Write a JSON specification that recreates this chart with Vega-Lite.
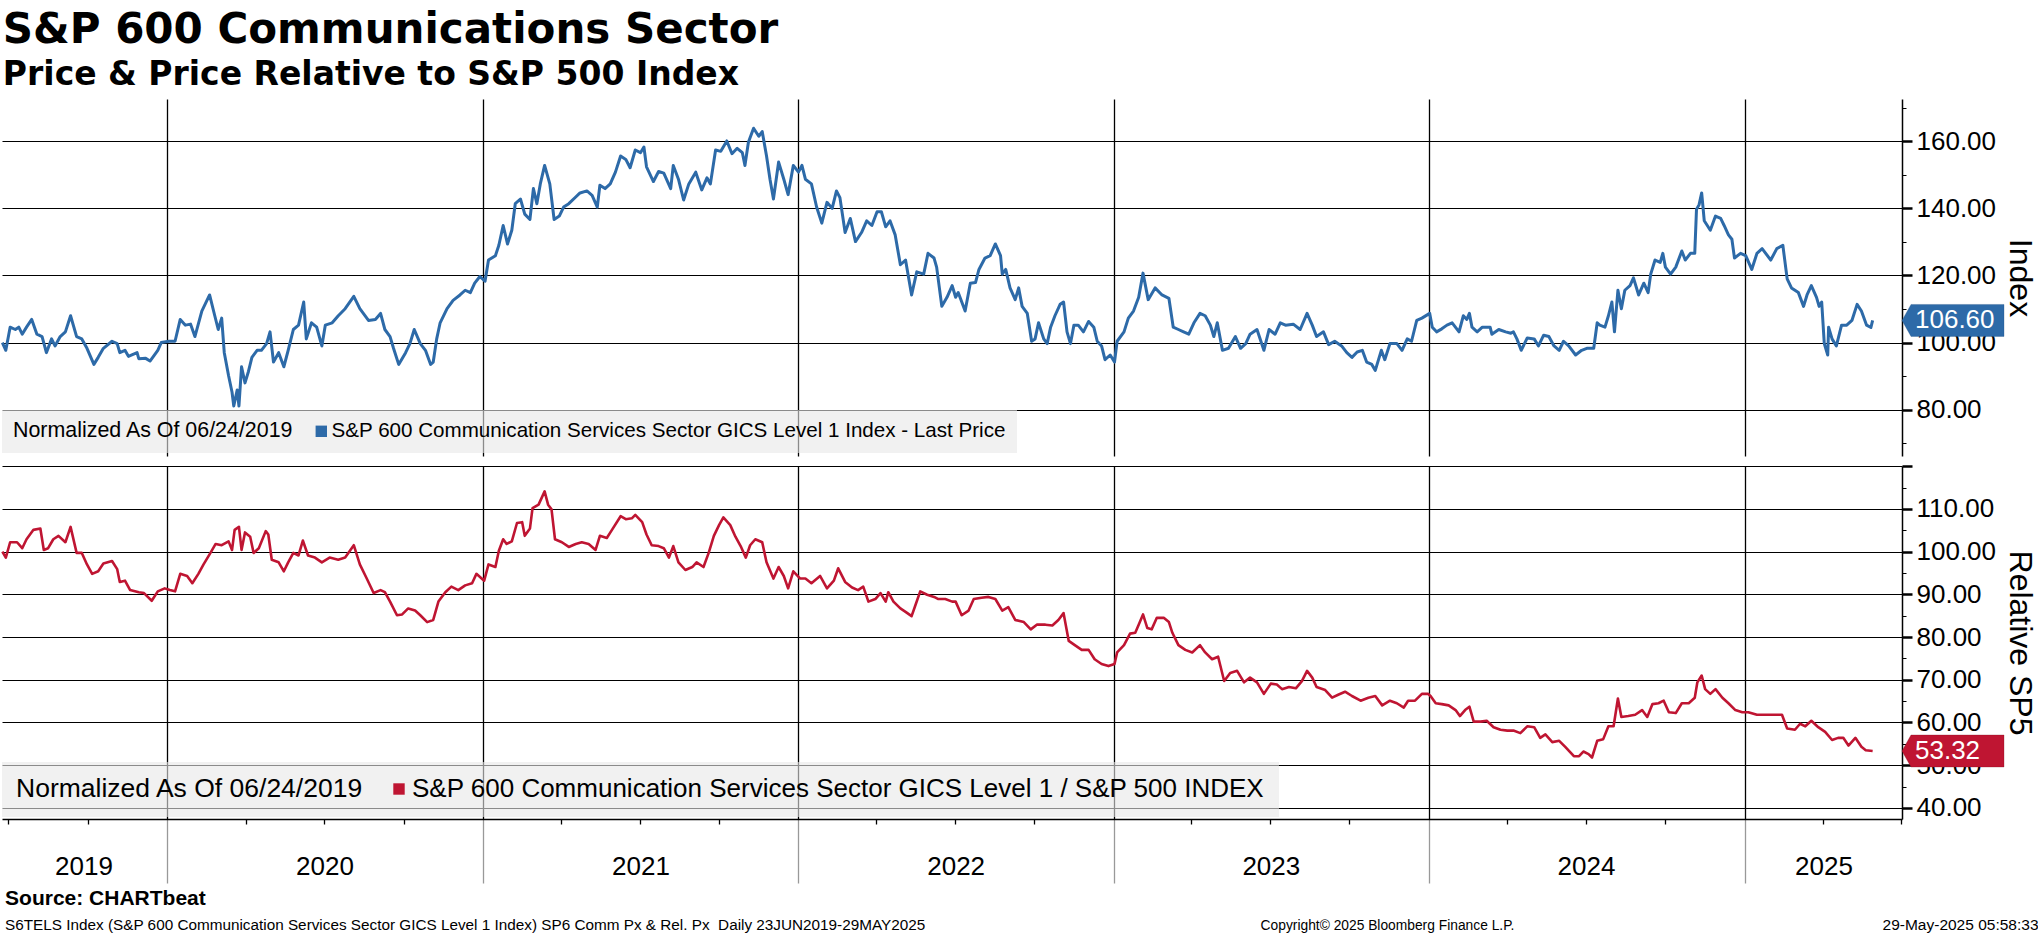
{
"$schema":"https://vega.github.io/schema/vega-lite/v6.json",
"background":"white",
"padding":{"top":9,"left":0,"right":0,"bottom":0},
"autosize":{"type":"pad"},
"config":{"view":{"stroke":null},"font":"Liberation Sans",
"axis":{"labelColor":"#000","titleColor":"#000","domainColor":"#000","tickColor":"#000","gridColor":"#000","gridOpacity":1,"labelFont":"Liberation Sans","titleFont":"Liberation Sans"}},
"title":{"text":"S&P 600 Communications Sector","subtitle":"Price & Price Relative to S&P 500 Index","anchor":"start","font":"DejaVu Sans","fontSize":42,"fontWeight":"bold","color":"#000","subtitleFont":"DejaVu Sans","subtitleFontSize":33,"subtitleFontWeight":"bold","subtitleColor":"#000","subtitlePadding":7,"offset":6,"dx":2},
"datasets":{
"px":[
{"d":"2019-06-24","v":100},{"d":"2019-06-28","v":97.7},{"d":"2019-07-03","v":104.6},{"d":"2019-07-09","v":103.9},{"d":"2019-07-13","v":104.6},{"d":"2019-07-17","v":102.5},{"d":"2019-07-22","v":104.6},{"d":"2019-07-28","v":106.9},{"d":"2019-08-03","v":102.5},{"d":"2019-08-09","v":101.8},{"d":"2019-08-14","v":97.0},{"d":"2019-08-20","v":101.1},{"d":"2019-08-24","v":99.0},{"d":"2019-08-30","v":101.8},{"d":"2019-09-05","v":103.2},{"d":"2019-09-11","v":108.0},{"d":"2019-09-18","v":101.8},{"d":"2019-09-24","v":101.1},{"d":"2019-09-30","v":98.3},{"d":"2019-10-08","v":93.5},{"d":"2019-10-13","v":95.6},{"d":"2019-10-19","v":98.3},{"d":"2019-10-29","v":100.4},{"d":"2019-11-04","v":99.7},{"d":"2019-11-07","v":97.0},{"d":"2019-11-13","v":97.7},{"d":"2019-11-17","v":95.9},{"d":"2019-11-27","v":97.0},{"d":"2019-11-29","v":95.2},{"d":"2019-12-07","v":95.3},{"d":"2019-12-12","v":94.5},{"d":"2019-12-21","v":97.7},{"d":"2019-12-25","v":100.0},
{"d":"2020-01-03","v":100.4},{"d":"2020-01-10","v":100.4},{"d":"2020-01-16","v":106.9},{"d":"2020-01-22","v":105.2},{"d":"2020-01-28","v":105.5},{"d":"2020-02-02","v":101.8},{"d":"2020-02-10","v":109.4},{"d":"2020-02-19","v":114.2},{"d":"2020-02-25","v":108.0},{"d":"2020-02-29","v":103.9},{"d":"2020-03-04","v":107.3},{"d":"2020-03-07","v":97.0},{"d":"2020-03-12","v":90.1},{"d":"2020-03-16","v":85.2},{"d":"2020-03-18","v":81.1},{"d":"2020-03-22","v":85.9},{"d":"2020-03-24","v":81.1},{"d":"2020-03-27","v":92.8},{"d":"2020-03-31","v":88.0},{"d":"2020-04-04","v":91.4},{"d":"2020-04-08","v":95.6},{"d":"2020-04-14","v":97.7},{"d":"2020-04-19","v":97.7},{"d":"2020-04-25","v":99.7},{"d":"2020-04-29","v":103.2},{"d":"2020-05-03","v":94.2},{"d":"2020-05-09","v":97.0},{"d":"2020-05-15","v":92.8},{"d":"2020-05-20","v":97.7},{"d":"2020-05-26","v":103.9},{"d":"2020-06-01","v":105.2},{"d":"2020-06-07","v":112.1},{"d":"2020-06-10","v":101.1},{"d":"2020-06-16","v":105.9},{"d":"2020-06-22","v":104.6},{"d":"2020-06-28","v":99.0},{"d":"2020-07-02","v":105.2},{"d":"2020-07-10","v":105.9},{"d":"2020-07-17","v":108.0},{"d":"2020-07-25","v":110.1},{"d":"2020-08-04","v":113.8},{"d":"2020-08-11","v":110.1},{"d":"2020-08-21","v":106.6},{"d":"2020-08-29","v":106.9},{"d":"2020-09-04","v":108.7},{"d":"2020-09-09","v":103.9},{"d":"2020-09-15","v":101.8},{"d":"2020-09-19","v":98.3},{"d":"2020-09-25","v":93.5},{"d":"2020-10-03","v":97.0},{"d":"2020-10-08","v":99.7},{"d":"2020-10-13","v":103.9},{"d":"2020-10-20","v":99.7},{"d":"2020-10-26","v":97.7},{"d":"2020-11-01","v":93.5},{"d":"2020-11-04","v":94.2},{"d":"2020-11-08","v":101.1},{"d":"2020-11-12","v":105.9},{"d":"2020-11-20","v":110.1},{"d":"2020-11-27","v":112.6},{"d":"2020-12-05","v":114.2},{"d":"2020-12-11","v":115.6},{"d":"2020-12-17","v":114.9},{"d":"2020-12-22","v":117.7},{"d":"2020-12-28","v":119.7},
{"d":"2021-01-03","v":118.3},{"d":"2021-01-07","v":124.6},{"d":"2021-01-15","v":125.9},{"d":"2021-01-19","v":129.0},{"d":"2021-01-24","v":134.9},{"d":"2021-01-29","v":129.4},{"d":"2021-02-03","v":133.5},{"d":"2021-02-07","v":141.4},{"d":"2021-02-13","v":142.8},{"d":"2021-02-18","v":138.3},{"d":"2021-02-24","v":136.7},{"d":"2021-02-28","v":145.9},{"d":"2021-03-04","v":141.4},{"d":"2021-03-08","v":147.3},{"d":"2021-03-13","v":152.8},{"d":"2021-03-19","v":147.3},{"d":"2021-03-24","v":136.7},{"d":"2021-03-30","v":137.7},{"d":"2021-04-04","v":140.4},{"d":"2021-04-10","v":141.4},{"d":"2021-04-18","v":143.4},{"d":"2021-04-23","v":144.6},{"d":"2021-05-01","v":145.2},{"d":"2021-05-07","v":143.9},{"d":"2021-05-13","v":140.4},{"d":"2021-05-16","v":146.9},{"d":"2021-05-22","v":145.9},{"d":"2021-05-28","v":147.3},{"d":"2021-06-03","v":150.8},{"d":"2021-06-09","v":155.6},{"d":"2021-06-15","v":154.6},{"d":"2021-06-20","v":152.1},{"d":"2021-06-26","v":157.4},{"d":"2021-07-02","v":156.6},{"d":"2021-07-06","v":158.3},{"d":"2021-07-09","v":152.4},{"d":"2021-07-17","v":148.0},{"d":"2021-07-23","v":151.0},{"d":"2021-07-29","v":150.5},{"d":"2021-08-06","v":145.9},{"d":"2021-08-09","v":152.8},{"d":"2021-08-15","v":148.7},{"d":"2021-08-21","v":142.5},{"d":"2021-08-27","v":147.3},{"d":"2021-09-04","v":150.8},{"d":"2021-09-11","v":145.5},{"d":"2021-09-17","v":149.1},{"d":"2021-09-21","v":147.3},{"d":"2021-09-27","v":157.4},{"d":"2021-10-03","v":157.0},{"d":"2021-10-10","v":160.1},{"d":"2021-10-16","v":156.3},{"d":"2021-10-22","v":157.9},{"d":"2021-10-28","v":156.6},{"d":"2021-10-31","v":152.8},{"d":"2021-11-04","v":159.7},{"d":"2021-11-10","v":163.9},{"d":"2021-11-16","v":161.5},{"d":"2021-11-20","v":162.9},{"d":"2021-11-25","v":155.6},{"d":"2021-11-29","v":148.7},{"d":"2021-12-03","v":142.8},{"d":"2021-12-09","v":153.8},{"d":"2021-12-15","v":148.7},{"d":"2021-12-20","v":144.1},{"d":"2021-12-26","v":152.8},
{"d":"2022-01-01","v":150.8},{"d":"2022-01-05","v":152.8},{"d":"2022-01-09","v":148.7},{"d":"2022-01-16","v":147.3},{"d":"2022-01-22","v":140.4},{"d":"2022-01-28","v":135.6},{"d":"2022-02-03","v":141.8},{"d":"2022-02-09","v":140.0},{"d":"2022-02-14","v":145.2},{"d":"2022-02-18","v":143.2},{"d":"2022-02-24","v":132.8},{"d":"2022-03-02","v":137.0},{"d":"2022-03-08","v":130.1},{"d":"2022-03-15","v":132.8},{"d":"2022-03-21","v":136.3},{"d":"2022-03-27","v":134.9},{"d":"2022-04-02","v":139.0},{"d":"2022-04-07","v":139.0},{"d":"2022-04-12","v":134.5},{"d":"2022-04-17","v":136.3},{"d":"2022-04-23","v":132.1},{"d":"2022-04-29","v":123.2},{"d":"2022-05-05","v":124.6},{"d":"2022-05-12","v":114.2},{"d":"2022-05-18","v":121.1},{"d":"2022-05-26","v":120.4},{"d":"2022-05-31","v":126.6},{"d":"2022-06-07","v":125.2},{"d":"2022-06-10","v":122.5},{"d":"2022-06-16","v":110.8},{"d":"2022-06-22","v":113.5},{"d":"2022-06-28","v":117.0},{"d":"2022-07-02","v":113.5},{"d":"2022-07-05","v":114.9},{"d":"2022-07-13","v":109.4},{"d":"2022-07-19","v":117.7},{"d":"2022-07-25","v":117.9},{"d":"2022-07-29","v":121.8},{"d":"2022-08-05","v":125.2},{"d":"2022-08-11","v":125.9},{"d":"2022-08-17","v":129.4},{"d":"2022-08-23","v":125.9},{"d":"2022-08-25","v":120.4},{"d":"2022-08-29","v":121.8},{"d":"2022-09-03","v":116.3},{"d":"2022-09-09","v":112.8},{"d":"2022-09-13","v":116.3},{"d":"2022-09-17","v":110.8},{"d":"2022-09-23","v":108.7},{"d":"2022-09-28","v":100.4},{"d":"2022-10-02","v":101.1},{"d":"2022-10-06","v":105.9},{"d":"2022-10-12","v":101.1},{"d":"2022-10-16","v":99.7},{"d":"2022-10-20","v":104.6},{"d":"2022-10-25","v":108.0},{"d":"2022-10-31","v":111.4},{"d":"2022-11-04","v":112.1},{"d":"2022-11-08","v":103.2},{"d":"2022-11-12","v":99.7},{"d":"2022-11-16","v":105.2},{"d":"2022-11-21","v":105.2},{"d":"2022-11-27","v":103.2},{"d":"2022-12-03","v":106.3},{"d":"2022-12-09","v":104.6},{"d":"2022-12-13","v":100.4},{"d":"2022-12-18","v":99.0},{"d":"2022-12-22","v":94.9},{"d":"2022-12-28","v":96.3},
{"d":"2023-01-02","v":94.2},{"d":"2023-01-05","v":100.4},{"d":"2023-01-13","v":103.2},{"d":"2023-01-18","v":107.3},{"d":"2023-01-24","v":109.4},{"d":"2023-01-30","v":113.5},{"d":"2023-02-04","v":120.7},{"d":"2023-02-10","v":112.8},{"d":"2023-02-18","v":116.3},{"d":"2023-02-26","v":114.2},{"d":"2023-03-06","v":113.2},{"d":"2023-03-11","v":104.6},{"d":"2023-03-17","v":103.9},{"d":"2023-03-23","v":103.2},{"d":"2023-03-29","v":102.5},{"d":"2023-04-04","v":105.9},{"d":"2023-04-11","v":108.7},{"d":"2023-04-17","v":108.0},{"d":"2023-04-23","v":105.2},{"d":"2023-04-27","v":101.8},{"d":"2023-05-01","v":105.9},{"d":"2023-05-07","v":97.7},{"d":"2023-05-14","v":98.3},{"d":"2023-05-22","v":101.8},{"d":"2023-05-28","v":98.3},{"d":"2023-06-03","v":99.7},{"d":"2023-06-08","v":102.5},{"d":"2023-06-16","v":103.9},{"d":"2023-06-24","v":97.7},{"d":"2023-06-30","v":103.9},{"d":"2023-07-07","v":102.5},{"d":"2023-07-13","v":105.9},{"d":"2023-07-19","v":105.2},{"d":"2023-07-28","v":105.5},{"d":"2023-08-05","v":103.9},{"d":"2023-08-13","v":108.7},{"d":"2023-08-19","v":105.2},{"d":"2023-08-24","v":101.8},{"d":"2023-09-01","v":103.2},{"d":"2023-09-07","v":99.4},{"d":"2023-09-14","v":100.4},{"d":"2023-09-22","v":99.0},{"d":"2023-09-28","v":97.0},{"d":"2023-10-04","v":95.6},{"d":"2023-10-10","v":97.2},{"d":"2023-10-16","v":97.7},{"d":"2023-10-21","v":94.2},{"d":"2023-10-27","v":93.5},{"d":"2023-10-31","v":91.7},{"d":"2023-11-07","v":97.7},{"d":"2023-11-11","v":94.9},{"d":"2023-11-17","v":99.7},{"d":"2023-11-25","v":99.7},{"d":"2023-12-01","v":97.7},{"d":"2023-12-07","v":101.1},{"d":"2023-12-12","v":100.4},{"d":"2023-12-18","v":106.6},{"d":"2023-12-24","v":107.3},
{"d":"2024-01-02","v":108.7},{"d":"2024-01-05","v":104.6},{"d":"2024-01-10","v":103.2},{"d":"2024-01-16","v":104.1},{"d":"2024-01-22","v":105.2},{"d":"2024-01-28","v":105.9},{"d":"2024-02-05","v":103.2},{"d":"2024-02-10","v":108.0},{"d":"2024-02-14","v":106.9},{"d":"2024-02-17","v":108.7},{"d":"2024-02-20","v":104.6},{"d":"2024-02-26","v":103.2},{"d":"2024-03-03","v":104.6},{"d":"2024-03-12","v":104.6},{"d":"2024-03-14","v":102.5},{"d":"2024-03-22","v":103.9},{"d":"2024-03-30","v":103.2},{"d":"2024-04-05","v":102.8},{"d":"2024-04-08","v":103.2},{"d":"2024-04-12","v":101.1},{"d":"2024-04-17","v":97.7},{"d":"2024-04-24","v":101.4},{"d":"2024-05-02","v":101.1},{"d":"2024-05-07","v":99.0},{"d":"2024-05-13","v":102.2},{"d":"2024-05-19","v":101.8},{"d":"2024-05-25","v":99.0},{"d":"2024-05-31","v":97.7},{"d":"2024-06-05","v":100.4},{"d":"2024-06-11","v":99.0},{"d":"2024-06-19","v":96.3},{"d":"2024-06-26","v":97.7},{"d":"2024-07-02","v":98.3},{"d":"2024-07-10","v":98.3},{"d":"2024-07-14","v":105.9},{"d":"2024-07-17","v":105.2},{"d":"2024-07-23","v":104.6},{"d":"2024-07-27","v":108.0},{"d":"2024-07-31","v":112.1},{"d":"2024-08-03","v":103.2},{"d":"2024-08-07","v":115.6},{"d":"2024-08-11","v":110.1},{"d":"2024-08-15","v":115.6},{"d":"2024-08-21","v":117.0},{"d":"2024-08-25","v":119.3},{"d":"2024-08-31","v":114.2},{"d":"2024-09-06","v":117.7},{"d":"2024-09-11","v":114.9},{"d":"2024-09-14","v":120.4},{"d":"2024-09-19","v":124.6},{"d":"2024-09-25","v":123.9},{"d":"2024-09-28","v":126.6},{"d":"2024-10-01","v":122.5},{"d":"2024-10-07","v":120.4},{"d":"2024-10-13","v":122.5},{"d":"2024-10-20","v":127.3},{"d":"2024-10-24","v":124.6},{"d":"2024-10-30","v":126.6},{"d":"2024-11-04","v":126.6},{"d":"2024-11-06","v":139.7},{"d":"2024-11-09","v":141.1},{"d":"2024-11-12","v":144.6},{"d":"2024-11-15","v":136.3},{"d":"2024-11-22","v":133.5},{"d":"2024-11-28","v":137.7},{"d":"2024-12-04","v":137.0},{"d":"2024-12-08","v":134.9},{"d":"2024-12-13","v":132.1},{"d":"2024-12-17","v":130.8},{"d":"2024-12-20","v":125.2},{"d":"2024-12-27","v":126.6},
{"d":"2025-01-02","v":125.9},{"d":"2025-01-09","v":121.8},{"d":"2025-01-15","v":126.6},{"d":"2025-01-21","v":128.0},{"d":"2025-01-31","v":124.6},{"d":"2025-02-07","v":128.0},{"d":"2025-02-14","v":129.0},{"d":"2025-02-19","v":119.0},{"d":"2025-02-24","v":116.3},{"d":"2025-03-04","v":114.9},{"d":"2025-03-10","v":110.8},{"d":"2025-03-14","v":114.2},{"d":"2025-03-19","v":117.0},{"d":"2025-03-25","v":113.5},{"d":"2025-03-28","v":110.8},{"d":"2025-03-31","v":112.1},{"d":"2025-04-03","v":99.7},{"d":"2025-04-07","v":96.3},{"d":"2025-04-08","v":104.6},{"d":"2025-04-12","v":101.1},{"d":"2025-04-17","v":99.0},{"d":"2025-04-23","v":105.2},{"d":"2025-04-29","v":105.2},{"d":"2025-05-05","v":106.6},{"d":"2025-05-11","v":111.4},{"d":"2025-05-16","v":109.4},{"d":"2025-05-22","v":105.2},{"d":"2025-05-27","v":104.5},{"d":"2025-05-29","v":106.6}
],
"rel":[
{"d":"2019-06-24","v":100},{"d":"2019-06-28","v":98.6},{"d":"2019-07-03","v":102.2},{"d":"2019-07-11","v":102.2},{"d":"2019-07-17","v":100.8},{"d":"2019-07-22","v":102.9},{"d":"2019-07-30","v":105.1},{"d":"2019-08-07","v":105.4},{"d":"2019-08-11","v":100.4},{"d":"2019-08-16","v":100.8},{"d":"2019-08-22","v":102.9},{"d":"2019-08-28","v":103.7},{"d":"2019-09-05","v":102.2},{"d":"2019-09-11","v":105.8},{"d":"2019-09-18","v":99.7},{"d":"2019-09-24","v":99.7},{"d":"2019-09-30","v":97.0},{"d":"2019-10-06","v":94.8},{"d":"2019-10-13","v":95.4},{"d":"2019-10-19","v":97.2},{"d":"2019-10-29","v":97.8},{"d":"2019-11-04","v":95.9},{"d":"2019-11-07","v":92.9},{"d":"2019-11-13","v":93.2},{"d":"2019-11-19","v":91.0},{"d":"2019-11-29","v":90.5},{"d":"2019-12-05","v":90.3},{"d":"2019-12-14","v":88.5},{"d":"2019-12-21","v":90.7},{"d":"2019-12-29","v":91.4},
{"d":"2020-01-04","v":91.0},{"d":"2020-01-10","v":90.7},{"d":"2020-01-16","v":94.8},{"d":"2020-01-24","v":94.3},{"d":"2020-01-30","v":92.6},{"d":"2020-02-06","v":94.8},{"d":"2020-02-12","v":97.0},{"d":"2020-02-20","v":99.7},{"d":"2020-02-26","v":101.8},{"d":"2020-03-04","v":101.5},{"d":"2020-03-12","v":102.4},{"d":"2020-03-16","v":100.4},{"d":"2020-03-19","v":105.1},{"d":"2020-03-24","v":105.8},{"d":"2020-03-27","v":100.4},{"d":"2020-03-31","v":104.5},{"d":"2020-04-06","v":103.5},{"d":"2020-04-10","v":99.7},{"d":"2020-04-16","v":100.8},{"d":"2020-04-24","v":104.8},{"d":"2020-04-27","v":104.0},{"d":"2020-05-01","v":98.1},{"d":"2020-05-09","v":97.5},{"d":"2020-05-15","v":95.4},{"d":"2020-05-20","v":97.5},{"d":"2020-05-26","v":99.7},{"d":"2020-06-01","v":99.1},{"d":"2020-06-06","v":102.6},{"d":"2020-06-12","v":99.1},{"d":"2020-06-20","v":98.6},{"d":"2020-06-28","v":97.5},{"d":"2020-07-07","v":98.6},{"d":"2020-07-17","v":98.1},{"d":"2020-07-25","v":98.6},{"d":"2020-08-04","v":101.5},{"d":"2020-08-11","v":97.0},{"d":"2020-08-19","v":93.7},{"d":"2020-08-27","v":90.3},{"d":"2020-09-04","v":91.0},{"d":"2020-09-09","v":90.5},{"d":"2020-09-15","v":88.3},{"d":"2020-09-23","v":85.1},{"d":"2020-09-29","v":85.3},{"d":"2020-10-06","v":86.7},{"d":"2020-10-14","v":86.2},{"d":"2020-10-20","v":85.1},{"d":"2020-10-28","v":83.5},{"d":"2020-11-04","v":84.0},{"d":"2020-11-10","v":88.3},{"d":"2020-11-18","v":90.5},{"d":"2020-11-25","v":91.8},{"d":"2020-12-03","v":91.0},{"d":"2020-12-11","v":92.1},{"d":"2020-12-19","v":92.6},{"d":"2020-12-24","v":94.8},
{"d":"2021-01-02","v":93.2},{"d":"2021-01-07","v":97.0},{"d":"2021-01-15","v":96.4},{"d":"2021-01-19","v":100.2},{"d":"2021-01-24","v":102.9},{"d":"2021-01-28","v":101.8},{"d":"2021-02-03","v":102.4},{"d":"2021-02-09","v":106.7},{"d":"2021-02-15","v":106.9},{"d":"2021-02-18","v":103.7},{"d":"2021-02-24","v":105.4},{"d":"2021-02-27","v":110.2},{"d":"2021-03-06","v":111.0},{"d":"2021-03-13","v":114.1},{"d":"2021-03-17","v":111.0},{"d":"2021-03-21","v":109.9},{"d":"2021-03-25","v":102.9},{"d":"2021-04-02","v":102.2},{"d":"2021-04-10","v":101.1},{"d":"2021-04-18","v":101.8},{"d":"2021-04-25","v":102.2},{"d":"2021-05-03","v":101.8},{"d":"2021-05-11","v":100.4},{"d":"2021-05-16","v":103.7},{"d":"2021-05-24","v":103.2},{"d":"2021-05-30","v":105.1},{"d":"2021-06-09","v":108.3},{"d":"2021-06-15","v":107.6},{"d":"2021-06-22","v":107.8},{"d":"2021-06-26","v":108.6},{"d":"2021-07-04","v":106.9},{"d":"2021-07-09","v":104.0},{"d":"2021-07-15","v":101.5},{"d":"2021-07-23","v":101.3},{"d":"2021-07-29","v":100.8},{"d":"2021-08-04","v":98.6},{"d":"2021-08-09","v":101.3},{"d":"2021-08-15","v":97.5},{"d":"2021-08-23","v":95.7},{"d":"2021-08-31","v":96.4},{"d":"2021-09-05","v":97.5},{"d":"2021-09-13","v":96.4},{"d":"2021-09-19","v":99.7},{"d":"2021-09-25","v":103.7},{"d":"2021-10-01","v":106.2},{"d":"2021-10-06","v":108.0},{"d":"2021-10-14","v":106.2},{"d":"2021-10-20","v":103.5},{"d":"2021-10-26","v":101.3},{"d":"2021-11-01","v":98.6},{"d":"2021-11-06","v":101.5},{"d":"2021-11-12","v":102.9},{"d":"2021-11-20","v":102.2},{"d":"2021-11-25","v":97.5},{"d":"2021-12-03","v":93.7},{"d":"2021-12-09","v":96.4},{"d":"2021-12-15","v":94.3},{"d":"2021-12-20","v":91.4},{"d":"2021-12-26","v":95.4},
{"d":"2022-01-03","v":93.7},{"d":"2022-01-09","v":93.7},{"d":"2022-01-16","v":92.6},{"d":"2022-01-26","v":94.3},{"d":"2022-02-03","v":91.4},{"d":"2022-02-11","v":93.2},{"d":"2022-02-16","v":96.1},{"d":"2022-02-24","v":92.9},{"d":"2022-03-04","v":91.6},{"d":"2022-03-11","v":91.0},{"d":"2022-03-17","v":91.8},{"d":"2022-03-23","v":88.3},{"d":"2022-03-31","v":88.9},{"d":"2022-04-06","v":90.3},{"d":"2022-04-12","v":88.3},{"d":"2022-04-15","v":90.5},{"d":"2022-04-21","v":88.3},{"d":"2022-04-29","v":86.7},{"d":"2022-05-05","v":85.9},{"d":"2022-05-12","v":84.9},{"d":"2022-05-16","v":87.2},{"d":"2022-05-22","v":90.7},{"d":"2022-05-30","v":89.9},{"d":"2022-06-07","v":89.4},{"d":"2022-06-12","v":88.9},{"d":"2022-06-20","v":88.9},{"d":"2022-06-28","v":88.3},{"d":"2022-07-02","v":88.3},{"d":"2022-07-09","v":85.1},{"d":"2022-07-17","v":86.2},{"d":"2022-07-23","v":88.9},{"d":"2022-08-01","v":89.2},{"d":"2022-08-09","v":89.4},{"d":"2022-08-17","v":88.9},{"d":"2022-08-25","v":86.2},{"d":"2022-09-01","v":87.0},{"d":"2022-09-09","v":84.0},{"d":"2022-09-19","v":83.5},{"d":"2022-09-27","v":81.8},{"d":"2022-10-04","v":82.9},{"d":"2022-10-14","v":82.9},{"d":"2022-10-22","v":82.7},{"d":"2022-10-29","v":84.0},{"d":"2022-11-04","v":85.6},{"d":"2022-11-10","v":79.1},{"d":"2022-11-17","v":78.1},{"d":"2022-11-25","v":77.0},{"d":"2022-12-03","v":77.0},{"d":"2022-12-10","v":74.8},{"d":"2022-12-18","v":73.7},{"d":"2022-12-26","v":73.2},
{"d":"2023-01-02","v":73.7},{"d":"2023-01-05","v":76.4},{"d":"2023-01-13","v":78.1},{"d":"2023-01-20","v":80.8},{"d":"2023-01-26","v":81.0},{"d":"2023-01-30","v":82.9},{"d":"2023-02-04","v":85.3},{"d":"2023-02-09","v":82.1},{"d":"2023-02-14","v":81.8},{"d":"2023-02-20","v":84.5},{"d":"2023-02-28","v":84.5},{"d":"2023-03-06","v":83.5},{"d":"2023-03-10","v":81.0},{"d":"2023-03-17","v":78.1},{"d":"2023-03-25","v":77.0},{"d":"2023-04-02","v":76.4},{"d":"2023-04-11","v":78.1},{"d":"2023-04-17","v":76.4},{"d":"2023-04-25","v":74.8},{"d":"2023-05-02","v":75.4},{"d":"2023-05-09","v":69.7},{"d":"2023-05-16","v":71.6},{"d":"2023-05-24","v":72.1},{"d":"2023-06-01","v":69.4},{"d":"2023-06-08","v":70.5},{"d":"2023-06-16","v":69.4},{"d":"2023-06-24","v":66.7},{"d":"2023-07-02","v":69.1},{"d":"2023-07-09","v":68.9},{"d":"2023-07-15","v":67.8},{"d":"2023-07-23","v":68.3},{"d":"2023-07-31","v":68.0},{"d":"2023-08-07","v":69.7},{"d":"2023-08-13","v":72.1},{"d":"2023-08-19","v":70.5},{"d":"2023-08-24","v":68.3},{"d":"2023-09-03","v":67.6},{"d":"2023-09-11","v":65.8},{"d":"2023-09-18","v":66.5},{"d":"2023-09-26","v":67.2},{"d":"2023-10-04","v":66.2},{"d":"2023-10-14","v":65.1},{"d":"2023-10-23","v":65.8},{"d":"2023-10-31","v":66.2},{"d":"2023-11-08","v":64.0},{"d":"2023-11-17","v":65.1},{"d":"2023-11-25","v":64.5},{"d":"2023-12-03","v":63.5},{"d":"2023-12-08","v":65.1},{"d":"2023-12-16","v":65.1},{"d":"2023-12-24","v":66.7},{"d":"2023-12-31","v":66.7},
{"d":"2024-01-03","v":66.2},{"d":"2024-01-09","v":64.5},{"d":"2024-01-16","v":64.3},{"d":"2024-01-24","v":64.0},{"d":"2024-02-01","v":62.9},{"d":"2024-02-06","v":61.5},{"d":"2024-02-12","v":62.9},{"d":"2024-02-17","v":63.7},{"d":"2024-02-22","v":60.2},{"d":"2024-03-01","v":60.2},{"d":"2024-03-08","v":60.4},{"d":"2024-03-16","v":58.9},{"d":"2024-03-24","v":58.3},{"d":"2024-04-01","v":58.1},{"d":"2024-04-08","v":58.1},{"d":"2024-04-16","v":57.5},{"d":"2024-04-24","v":59.1},{"d":"2024-05-02","v":58.9},{"d":"2024-05-09","v":56.4},{"d":"2024-05-15","v":57.2},{"d":"2024-05-23","v":55.4},{"d":"2024-05-31","v":55.7},{"d":"2024-06-07","v":54.3},{"d":"2024-06-17","v":52.1},{"d":"2024-06-23","v":52.1},{"d":"2024-06-28","v":53.2},{"d":"2024-07-04","v":52.6},{"d":"2024-07-08","v":51.8},{"d":"2024-07-14","v":55.7},{"d":"2024-07-21","v":56.1},{"d":"2024-07-27","v":59.1},{"d":"2024-08-02","v":59.1},{"d":"2024-08-07","v":65.6},{"d":"2024-08-11","v":61.3},{"d":"2024-08-19","v":61.5},{"d":"2024-08-27","v":61.8},{"d":"2024-09-04","v":62.9},{"d":"2024-09-10","v":61.3},{"d":"2024-09-16","v":64.3},{"d":"2024-09-23","v":64.5},{"d":"2024-09-29","v":65.1},{"d":"2024-10-05","v":62.4},{"d":"2024-10-13","v":62.2},{"d":"2024-10-20","v":64.5},{"d":"2024-10-28","v":64.5},{"d":"2024-11-04","v":65.8},{"d":"2024-11-07","v":69.4},{"d":"2024-11-12","v":71.0},{"d":"2024-11-16","v":67.8},{"d":"2024-11-22","v":66.7},{"d":"2024-11-28","v":67.8},{"d":"2024-12-06","v":65.8},{"d":"2024-12-13","v":64.5},{"d":"2024-12-21","v":62.9},{"d":"2024-12-29","v":62.4},
{"d":"2025-01-05","v":62.4},{"d":"2025-01-15","v":61.8},{"d":"2025-01-25","v":61.8},{"d":"2025-02-03","v":61.8},{"d":"2025-02-13","v":61.8},{"d":"2025-02-19","v":58.6},{"d":"2025-02-28","v":58.3},{"d":"2025-03-06","v":59.7},{"d":"2025-03-12","v":59.1},{"d":"2025-03-19","v":60.4},{"d":"2025-03-27","v":58.9},{"d":"2025-04-04","v":57.8},{"d":"2025-04-12","v":55.9},{"d":"2025-04-19","v":56.4},{"d":"2025-04-25","v":56.4},{"d":"2025-05-01","v":54.6},{"d":"2025-05-09","v":56.4},{"d":"2025-05-16","v":54.3},{"d":"2025-05-21","v":53.5},{"d":"2025-05-29","v":53.32}
],
"pxLast":[{"v":106.6,"t":"106.60"}],
"relLast":[{"v":53.32,"t":"53.32"}]
},
"spacing":10,
"bounds":"flush",
"resolve":{"scale":{"color":"independent","x":"independent","y":"independent"},"legend":{"color":"independent"}},
"vconcat":[
{
"width":1900,"height":357,
"resolve":{"axis":{"x":"independent","y":"independent"}},
"layer":[
{"data":{"name":"px"},
"mark":{"type":"line","strokeWidth":3,"strokeJoin":"round"},
"encoding":{
"x":{"field":"d","type":"temporal","scale":{"type":"utc","domain":[{"year":2019,"month":6,"date":23,"hours":14,"utc":true},{"year":2025,"month":7,"date":2,"utc":true}]},
"axis":{"orient":"bottom","values":[{"year":2020,"month":1,"date":1,"utc":true},{"year":2021,"month":1,"date":1,"utc":true},{"year":2022,"month":1,"date":1,"utc":true},{"year":2023,"month":1,"date":1,"utc":true},{"year":2024,"month":1,"date":1,"utc":true},{"year":2025,"month":1,"date":1,"utc":true}],"grid":true,"gridWidth":1.3,"ticks":false,"labels":false,"domain":false,
"title":"Copyright\u00a9 2025 Bloomberg Finance L.P.","titleX":1385,"titleY":473,"titleAlign":"center","titleBaseline":"alphabetic","titleFontSize":13.8,"titleFontWeight":"normal"}},
"y":{"field":"v","type":"quantitative","scale":{"domain":[66.2,172.6],"nice":false,"zero":false},
"axis":{"orient":"right","values":[80,100,120,140,160],"format":".2f","grid":true,"gridWidth":1.2,"tickSize":10,"tickWidth":2.5,"domainWidth":1.5,"labelFontSize":26,"labelPadding":4,"labelBaseline":"middle","title":"Index","titleFontSize":32,"titleFontWeight":"normal","titlePadding":7,"titleAngle":90}},
"color":{"datum":"S&P 600 Communication Services Sector GICS Level 1 Index - Last Price","type":"nominal","scale":{"range":["#2d6aa8"]},
"legend":{"orient":"none","legendX":0,"legendY":311,"direction":"horizontal","title":"Normalized As Of 06/24/2019","titleOrient":"left","titleFont":"Liberation Sans","titleFontSize":21.4,"titleFontWeight":"normal","titleColor":"#000","titlePadding":17,"titleLimit":3000,"titleBaseline":"middle","titleAnchor":"middle","labelFont":"Liberation Sans","labelFontSize":20.6,"labelColor":"#000","labelLimit":3000,"labelOffset":0,"symbolType":"square","symbolSize":130,"symbolFillColor":"#2d6aa8","symbolStrokeWidth":0,"fillColor":"rgba(232,232,232,0.6)","padding":11,"cornerRadius":0}}
}},
{"mark":{"type":"rule","color":"#404040","strokeWidth":4.5},
"encoding":{
"x":{"datum":{"year":2019,"month":6,"date":23,"hours":14,"utc":true},"type":"temporal","scale":{"type":"utc","domain":[{"year":2019,"month":6,"date":23,"hours":14,"utc":true},{"year":2025,"month":7,"date":2,"utc":true}]},"axis":null},
"x2":{"datum":{"year":2025,"month":12,"date":11,"utc":true}},
"y":{"datum":65.6,"type":"quantitative","scale":{"domain":[66.2,172.6],"nice":false,"zero":false},"axis":null}}},
{"data":{"name":"pxLast"},
"mark":{"type":"point","shape":"M0,0L9,-16L102,-16L102,16L9,16Z","size":4,"filled":true,"fill":"#2d6aa8","stroke":"#1f4f80","strokeWidth":0.3,"opacity":1},
"encoding":{
"x":{"datum":{"year":2025,"month":7,"date":2,"utc":true},"type":"temporal","scale":{"type":"utc","domain":[{"year":2019,"month":6,"date":23,"hours":14,"utc":true},{"year":2025,"month":7,"date":2,"utc":true}]},
"axis":{"orient":"bottom","grid":false,"ticks":false,"labels":false,"domain":false,"title":"29-May-2025 05:58:33","titleX":2036,"titleY":473,"titleAlign":"right","titleBaseline":"alphabetic","titleFontSize":15.5,"titleFontWeight":"normal"}},
"y":{"field":"v","type":"quantitative","scale":{"domain":[66.2,172.6],"nice":false,"zero":false},
"axis":{"orient":"right","values":[70,90,110,130,150,170],"tickSize":4,"tickWidth":1,"labels":false,"grid":false,"domain":false,"title":null}}}},
{"data":{"name":"pxLast"},
"mark":{"type":"text","dx":13,"align":"left","baseline":"middle","fontSize":26,"font":"Liberation Sans","color":"#ffffff"},
"encoding":{
"x":{"datum":{"year":2025,"month":7,"date":2,"utc":true},"type":"temporal","scale":{"type":"utc","domain":[{"year":2019,"month":6,"date":23,"hours":14,"utc":true},{"year":2025,"month":7,"date":2,"utc":true}]},"axis":null},
"y":{"field":"v","type":"quantitative","scale":{"domain":[66.2,172.6],"nice":false,"zero":false},"axis":null},
"text":{"field":"t"}}}
]
},
{
"width":1900,"height":353,
"title":{"text":"Source: CHARTbeat","subtitle":"S6TELS Index (S&P 600 Communication Services Sector GICS Level 1 Index) SP6 Comm Px & Rel. Px\u00a0\u00a0Daily 23JUN2019-29MAY2025","orient":"bottom","anchor":"start","font":"Liberation Sans","fontSize":21,"fontWeight":"bold","color":"#000","subtitleFont":"Liberation Sans","subtitleFontSize":15.3,"subtitleFontWeight":"normal","subtitleColor":"#000","subtitlePadding":9,"offset":4,"dx":4},
"resolve":{"axis":{"x":"independent","y":"independent"}},
"layer":[
{"data":{"name":"rel"},
"mark":{"type":"line","strokeWidth":2.6,"color":"#bf1532","strokeJoin":"round"},
"encoding":{
"x":{"field":"d","type":"temporal","scale":{"type":"utc","domain":[{"year":2019,"month":6,"date":23,"hours":14,"utc":true},{"year":2025,"month":7,"date":2,"utc":true}]},
"axis":{"orient":"bottom","values":[{"year":2019,"month":9,"date":26,"utc":true},{"year":2020,"month":7,"date":1,"utc":true},{"year":2021,"month":7,"date":2,"utc":true},{"year":2022,"month":7,"date":2,"utc":true},{"year":2023,"month":7,"date":2,"utc":true},{"year":2024,"month":7,"date":1,"utc":true},{"year":2025,"month":4,"date":2,"utc":true}],"labelExpr":"utcFormat(datum.value, '%Y')","ticks":false,"domain":false,"grid":false,"labelFontSize":26,"labelPadding":47,"labelBaseline":"middle","labelFlush":false,"labelOverlap":false,"title":null}},
"y":{"field":"v","type":"quantitative","scale":{"domain":[37.4,120.05],"nice":false,"zero":false},
"axis":{"orient":"right","values":[40,50,60,70,80,90,100,110,120],"labelExpr":"datum.value == 120 ? '' : format(datum.value, '.2f')","grid":true,"gridWidth":1.2,"tickSize":10,"tickWidth":2.5,"domainWidth":1.5,"labelFontSize":26,"labelPadding":4,"labelBaseline":"middle","title":"Relative SP5","titleFontSize":32,"titleFontWeight":"normal","titlePadding":7,"titleAngle":90}},
"color":{"datum":"S&P 600 Communication Services Sector GICS Level 1 / S&P 500 INDEX","type":"nominal","scale":{"range":["#bf1532"]},
"legend":{"orient":"none","legendX":0,"legendY":296,"direction":"horizontal","title":"Normalized As Of 06/24/2019","titleOrient":"left","titleFont":"Liberation Sans","titleFontSize":26.5,"titleFontWeight":"normal","titleColor":"#000","titlePadding":22,"titleLimit":3000,"titleBaseline":"middle","titleAnchor":"middle","labelFont":"Liberation Sans","labelFontSize":26,"labelColor":"#000","labelLimit":3000,"labelOffset":0,"symbolType":"square","symbolSize":130,"symbolFillColor":"#bf1532","symbolStrokeWidth":0,"fillColor":"rgba(232,232,232,0.6)","padding":14,"cornerRadius":0}}
}},
{"data":{"name":"relLast"},
"mark":{"type":"point","shape":"M0,0L9,-16L102,-16L102,16L9,16Z","size":4,"filled":true,"fill":"#bf1532","stroke":"#7a0d20","strokeWidth":0.3,"opacity":1},
"encoding":{
"x":{"datum":{"year":2025,"month":7,"date":2,"utc":true},"type":"temporal","scale":{"type":"utc","domain":[{"year":2019,"month":6,"date":23,"hours":14,"utc":true},{"year":2025,"month":7,"date":2,"utc":true}]},
"axis":{"orient":"bottom","values":[{"year":2020,"month":1,"date":1,"utc":true},{"year":2021,"month":1,"date":1,"utc":true},{"year":2022,"month":1,"date":1,"utc":true},{"year":2023,"month":1,"date":1,"utc":true},{"year":2024,"month":1,"date":1,"utc":true},{"year":2025,"month":1,"date":1,"utc":true}],"grid":true,"gridWidth":1.3,"ticks":true,"tickSize":64,"tickColor":"#999999","tickWidth":1.3,"labels":false,"domain":false,"title":null}},
"y":{"field":"v","type":"quantitative","scale":{"domain":[37.4,120.05],"nice":false,"zero":false},
"axis":{"orient":"right","values":[45,55,65,75,85,95,105,115],"tickSize":4,"tickWidth":1,"labels":false,"grid":false,"domain":false,"title":null}}}},
{"data":{"name":"relLast"},
"mark":{"type":"text","dx":13,"align":"left","baseline":"middle","fontSize":26,"font":"Liberation Sans","color":"#ffffff"},
"encoding":{
"x":{"datum":{"year":2025,"month":7,"date":2,"utc":true},"type":"temporal","scale":{"type":"utc","domain":[{"year":2019,"month":6,"date":23,"hours":14,"utc":true},{"year":2025,"month":7,"date":2,"utc":true}]},
"axis":{"orient":"bottom","values":[{"year":2019,"month":7,"date":1,"utc":true},{"year":2019,"month":10,"date":1,"utc":true},{"year":2020,"month":4,"date":1,"utc":true},{"year":2020,"month":7,"date":1,"utc":true},{"year":2020,"month":10,"date":1,"utc":true},{"year":2021,"month":4,"date":1,"utc":true},{"year":2021,"month":7,"date":1,"utc":true},{"year":2021,"month":10,"date":1,"utc":true},{"year":2022,"month":4,"date":1,"utc":true},{"year":2022,"month":7,"date":1,"utc":true},{"year":2022,"month":10,"date":1,"utc":true},{"year":2023,"month":4,"date":1,"utc":true},{"year":2023,"month":7,"date":1,"utc":true},{"year":2023,"month":10,"date":1,"utc":true},{"year":2024,"month":4,"date":1,"utc":true},{"year":2024,"month":7,"date":1,"utc":true},{"year":2024,"month":10,"date":1,"utc":true},{"year":2025,"month":4,"date":1,"utc":true},{"year":2025,"month":7,"date":1,"utc":true}],"grid":false,"ticks":true,"tickSize":5,"tickWidth":1.3,"labels":false,"domain":true,"domainWidth":1.5,"title":null}},
"y":{"field":"v","type":"quantitative","scale":{"domain":[37.4,120.05],"nice":false,"zero":false},"axis":null},
"text":{"field":"t"}}}
]
}
]
}
